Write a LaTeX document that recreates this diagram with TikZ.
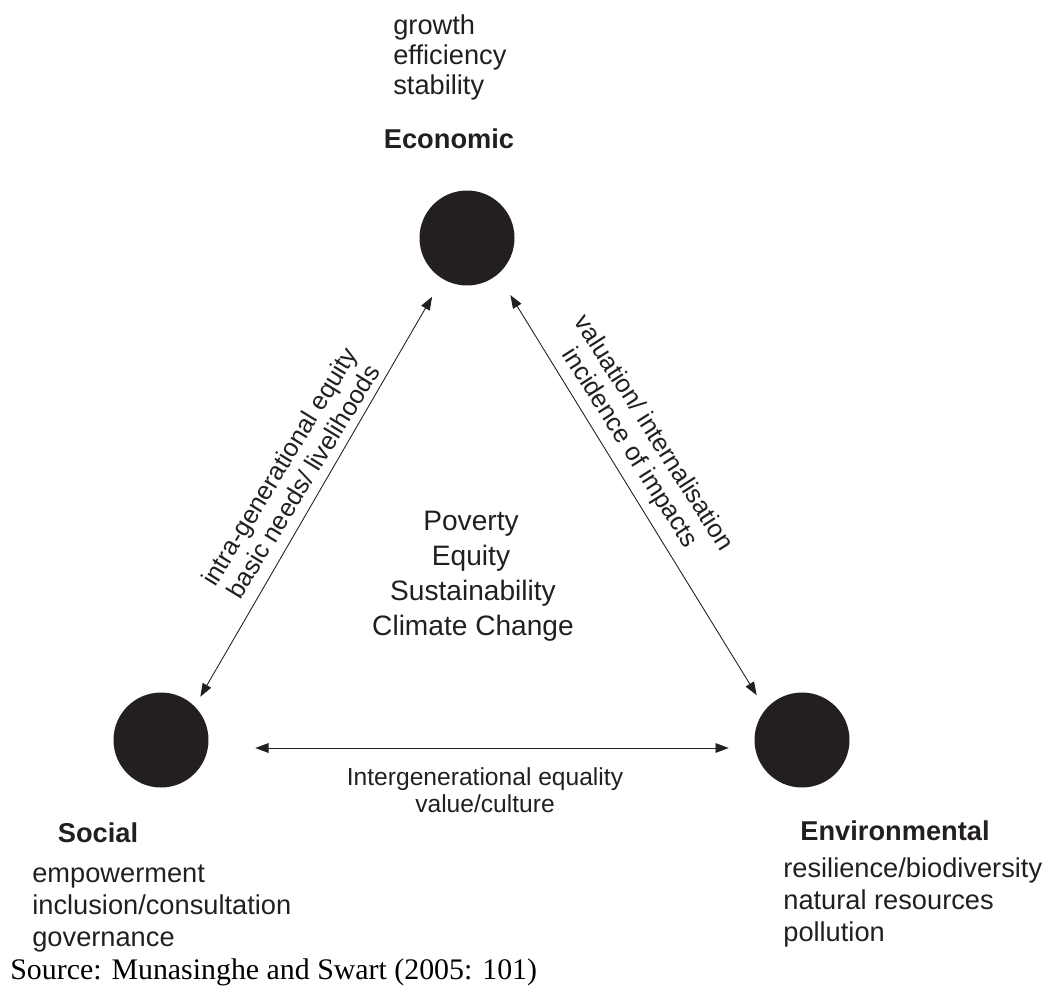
\documentclass[tikz,border=0pt]{standalone}
\usepackage{fontspec}
\setmainfont{Liberation Sans}
\newfontfamily\srcfont{Liberation Serif}
\usetikzlibrary{arrows.meta}
\definecolor{ink}{HTML}{231F20}
\tikzset{
  pillar/.style={circle, fill=ink, minimum size=1.9cm, inner sep=0pt},
  link/.style={<->, >={Triangle[length=7.5pt,width=5.5pt]}, draw=ink, line width=0.5pt},
  head/.style={font=\fontsize{15.5}{18}\selectfont\bfseries, text=ink, inner sep=0pt, anchor=base},
  item/.style={font=\fontsize{15.5}{18}\selectfont, text=ink, inner sep=0pt, anchor=base west},
  theme/.style={font=\fontsize{16}{20}\selectfont, text=ink, inner sep=0pt, anchor=base},
  note/.style={font=\fontsize{14}{16}\selectfont, text=ink, inner sep=0pt, anchor=base},
  tradeoff/.style={font=\fontsize{14.5}{16}\selectfont, text=ink, inner sep=0pt, align=center},
}
\begin{document}
\begin{tikzpicture}[x=0.02cm, y=-0.02cm]
	\useasboundingbox (0,0) rectangle (1060,994);
	% the three pillars
	\node[pillar] (eco) at (467,238) {};
	\node[pillar] (soc) at (161,740) {};
	\node[pillar] (env) at (802,740) {};
	% links between the pillars
	\draw[link, shorten <=0.41cm, shorten >=0.22cm] (eco.239) -- (soc.45);
	\draw[link, shorten <=0.48cm, shorten >=0.33cm] (eco.-50) -- (env.140);
	\draw[link, shorten <=0.93cm, shorten >=0.51cm] ([yshift=-0.16cm]soc.east) -- ([yshift=-0.16cm]env.west);
	\node[tradeoff, rotate=58.5] (socline) at (291,474) {intra-generational equity\\basic needs/ livelihoods};
	\node[tradeoff, rotate=-57.5] (envline) at (641,441) {valuation/ internalisation\\incidence of impacts};
	\node[note] (intergen) at (485,785) {Intergenerational equality};
	\node[note] (culture) at (485,812) {value/culture};
	% economic
	\node[item] (growth) at (393,34) {growth};
	\node[item] (efficiency) at (393,64) {efficiency};
	\node[item] (stability) at (393,94) {stability};
	\node[head] (ecohead) at (449,148) {Economic};
	% issues in the middle
	\node[theme] (poverty) at (471,530) {Poverty};
	\node[theme] (equity) at (471,565) {Equity};
	\node[theme] (sustain) at (473,600) {Sustainability};
	\node[theme] (climate) at (473,635) {Climate Change};
	% social
	\node[head] (sochead) at (98,842) {Social};
	\node[item] (empower) at (32,882) {empowerment};
	\node[item] (inclusion) at (32,914) {inclusion/consultation};
	\node[item] (governance) at (32,946) {governance};
	% environmental
	\node[head] (envhead) at (895,840) {Environmental};
	\node[item] (resilience) at (783,877) {resilience/biodiversity};
	\node[item] (resources) at (783,909) {natural resources};
	\node[item] (pollution) at (783,941) {pollution};
	\node[font=\srcfont\fontsize{17}{20}\selectfont, inner sep=0pt, anchor=base west] (source) at (10,979) {Source: Munasinghe and Swart (2005: 101)};
\end{tikzpicture}
\end{document}
